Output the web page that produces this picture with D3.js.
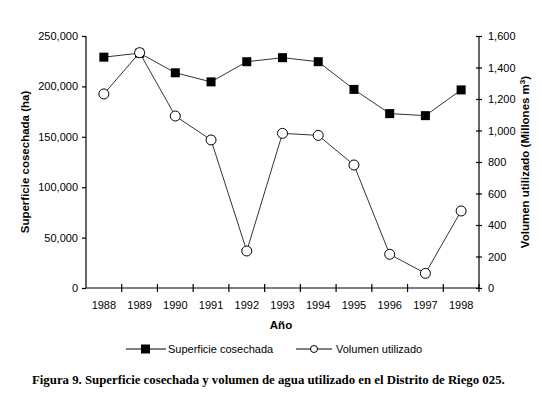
<!DOCTYPE html>
<html lang="en">
<head>
<meta charset="UTF-8">
<title>Superficie cosechada y volumen utilizado</title>
<script src="https://cdnjs.cloudflare.com/ajax/libs/d3/7.8.5/d3.min.js"></script>
<style>
    body { margin: 0; background: #fff; }
    svg text { font-family: Arial, 'Liberation Sans', sans-serif; fill: #000; }
    .caption { font-family: 'Times New Roman', 'Liberation Serif', serif; font-weight: bold; font-size: 12.8px; }
</style>
</head>
<body>
<div id="chart"></div>
<script>
// data
const years = ["1988", "1989", "1990", "1991", "1992", "1993", "1994", "1995", "1996", "1997", "1998"];
const superficie = [229000, 233000, 213500, 204500, 224500, 228500, 224500, 197000, 173000, 171000, 196500];
const volumen = [1232, 1494, 1092, 940, 235, 982, 969, 781, 214, 93, 489];
const leftTicks = [0, 50000, 100000, 150000, 200000, 250000];
const rightTicks = [0, 200, 400, 600, 800, 1000, 1200, 1400, 1600];

const width = 542, height = 399;
const margin = { top: 36, right: 63, bottom: 111, left: 86 };
const w = width - margin.left - margin.right;
const h = height - margin.top - margin.bottom;

const svg = d3.select("#chart").append("svg")
    .attr("width", width)
    .attr("height", height);

const g = svg.append("g")
    .attr("transform", `translate(${margin.left},${margin.top})`);

const x = d3.scaleBand().domain(years).range([0, w]);
const yL = d3.scaleLinear().domain([0, 250000]).range([h, 0]);
const yR = d3.scaleLinear().domain([0, 1600]).range([h, 0]);
const fmt = d3.format(",");

// axes
const axL = g.append("g")
    .call(d3.axisLeft(yL).tickValues(leftTicks).tickFormat(fmt).tickSize(4).tickPadding(4));
const axR = g.append("g")
    .attr("transform", `translate(${w},0)`)
    .call(d3.axisRight(yR).tickValues(rightTicks).tickFormat(fmt).tickSize(3).tickPadding(6));
const axB = g.append("g")
    .attr("transform", `translate(0,${h})`)
    .call(d3.axisBottom(x).tickSize(4).tickPadding(9));

// x ticks sit between categories, crossing the axis line
axB.selectAll(".tick line")
    .attr("transform", `translate(${x.bandwidth() / 2},0)`)
    .attr("y1", -4);
axR.selectAll(".tick line").attr("x1", -3);

[axL, axR, axB].forEach(a => {
    a.select(".domain").attr("stroke", "#000").attr("stroke-width", 1.2);
    a.selectAll(".tick line").attr("stroke", "#000").attr("stroke-width", 1.2);
    a.selectAll("text").attr("font-size", 11).attr("fill", "#222");
});
axB.select(".domain").attr("d", `M0,0H${w}`);
axL.select(".domain").attr("d", `M0,${h}V0`);
axR.select(".domain").attr("d", `M0,${h}V0`);

// lines
const cx = d => x(d) + x.bandwidth() / 2;
const lineL = d3.line().x((d, i) => cx(years[i])).y(d => yL(d));
const lineR = d3.line().x((d, i) => cx(years[i])).y(d => yR(d));

g.append("path").datum(superficie)
    .attr("d", lineL).attr("fill", "none").attr("stroke", "#333").attr("stroke-width", 1);
g.append("path").datum(volumen)
    .attr("d", lineR).attr("fill", "none").attr("stroke", "#333").attr("stroke-width", 1);

g.selectAll(".sq").data(superficie).enter().append("rect")
    .attr("x", (d, i) => cx(years[i]) - 4.5)
    .attr("y", d => yL(d) - 4.5)
    .attr("width", 9).attr("height", 9)
    .attr("fill", "#000");

g.selectAll(".ci").data(volumen).enter().append("circle")
    .attr("cx", (d, i) => cx(years[i]))
    .attr("cy", d => yR(d))
    .attr("r", 5)
    .attr("fill", "#fff").attr("stroke", "#000").attr("stroke-width", 1);

// axis titles
svg.append("text")
    .attr("transform", `translate(29,${margin.top + h / 2}) rotate(-90)`)
    .attr("text-anchor", "middle")
    .attr("font-size", 11.5).attr("font-weight", "bold")
    .text("Superficie cosechada (ha)");

const rt = svg.append("text")
    .attr("transform", `translate(529,${margin.top + h / 2}) rotate(-90)`)
    .attr("text-anchor", "middle")
    .attr("font-size", 11.5).attr("font-weight", "bold");
rt.append("tspan").text("Volumen utilizado (Millones m");
rt.append("tspan").attr("dy", -4).attr("font-size", 8).text("3");
rt.append("tspan").attr("dy", 4).text(")");

svg.append("text")
    .attr("x", 281).attr("y", 329)
    .attr("text-anchor", "middle")
    .attr("font-size", 11.5).attr("font-weight", "bold")
    .text("Año");

// legend
const leg = svg.append("g").attr("transform", "translate(126,349)");
leg.append("line").attr("x1", 0).attr("x2", 40).attr("stroke", "#000");
leg.append("rect").attr("x", 15).attr("y", -4.5).attr("width", 9).attr("height", 9).attr("fill", "#000");
leg.append("text").attr("x", 42).attr("y", 4).attr("font-size", 11).text("Superficie cosechada");
leg.append("line").attr("x1", 170).attr("x2", 206).attr("stroke", "#000");
leg.append("circle").attr("cx", 188).attr("cy", 0).attr("r", 3.5).attr("fill", "#fff").attr("stroke", "#000");
leg.append("text").attr("x", 210).attr("y", 4).attr("font-size", 11).text("Volumen utilizado");

svg.append("text")
    .attr("class", "caption")
    .attr("x", 32).attr("y", 384)
    .text("Figura 9. Superficie cosechada y volumen de agua utilizado en el Distrito de Riego 025.");
</script>
</body>
</html>
